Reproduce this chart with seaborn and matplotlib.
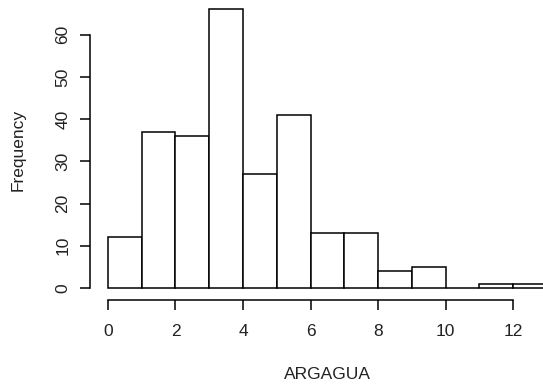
import numpy as np
import pandas as pd
import matplotlib
matplotlib.use("Agg")
import matplotlib.pyplot as plt
import seaborn as sns

# histogram of ARGAGUA, bins of width 1
bin_edges = list(range(0, 14))
counts = [12, 37, 36, 66, 27, 41, 13, 13, 4, 5, 0, 1, 1]
x_ticks = [0, 2, 4, 6, 8, 10, 12]
y_ticks = [0, 10, 20, 30, 40, 50, 60]

df = pd.DataFrame({
    "ARGAGUA": [e + 0.5 for e in bin_edges[:-1]],
    "n": counts,
})

sns.set_style("white")
plt.rcParams["font.family"] = ["Liberation Sans", "DejaVu Sans"]
plt.rcParams["font.size"] = 12.5

fig = plt.figure(figsize=(5.43, 3.92), dpi=100)
# axes rectangle in pixels: left 90, right 543, bottom 300, top 0
ax = fig.add_axes([90 / 543, (392 - 300) / 392, (543 - 90) / 543, 300 / 392])

sns.histplot(data=df, x="ARGAGUA", weights="n", bins=bin_edges,
             color="white", edgecolor="black", linewidth=1.1, alpha=1,
             ax=ax)

ax.set_xlim(-0.53, 12.88)
ax.set_ylim(-2.84, 68.2)

for s in ["top", "right"]:
    ax.spines[s].set_visible(False)
ax.spines["left"].set_bounds(0, 60)
ax.spines["bottom"].set_bounds(0, 12)
for s in ["left", "bottom"]:
    ax.spines[s].set_color("black")
    ax.spines[s].set_linewidth(1.1)

ax.set_xticks(x_ticks)
ax.set_yticks(y_ticks)
ax.set_yticklabels([str(v) for v in y_ticks], rotation=90, va="center")
ax.tick_params(axis="both", direction="out", length=7, width=1.1,
               bottom=True, left=True,
               color="black", labelcolor="#222222", labelsize=12.5)
ax.tick_params(axis="x", pad=10)
ax.tick_params(axis="y", pad=7)

ax.set_xlabel("ARGAGUA", fontsize=12.5, color="#222222")
ax.xaxis.set_label_coords((327 - 90) / 453, -67 / 300)
ax.set_ylabel("Frequency", fontsize=12.5, color="#222222")
ax.yaxis.set_label_coords(-64 / 453, 0.5)
ax.grid(False)

fig.savefig("out.png", dpi=100)
